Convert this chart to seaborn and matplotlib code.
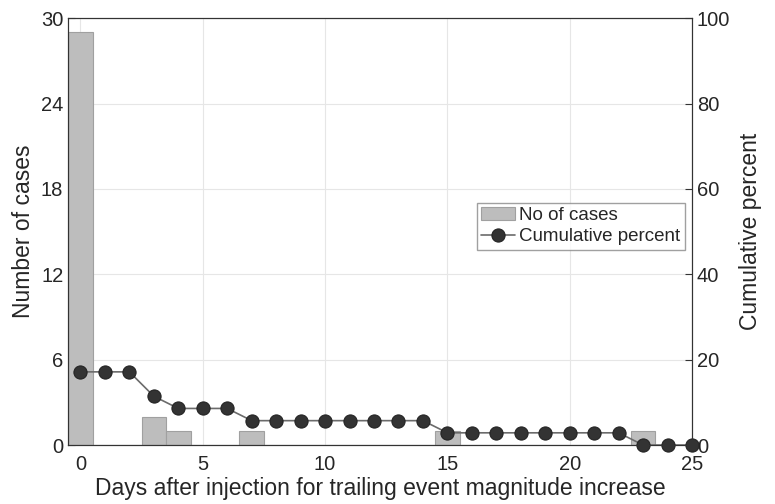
import numpy as np
import pandas as pd
import matplotlib
matplotlib.use("Agg")
import matplotlib.pyplot as plt
import seaborn as sns

# Data
days = list(range(0, 26))
cases = [29, 0, 0, 2, 1, 0, 0, 1, 0, 0, 0, 0, 0, 0, 0, 1, 0, 0, 0, 0, 0, 0, 0, 1, 0, 0]
cum_percent = [17.14, 17.14, 17.14, 11.43, 8.57, 8.57, 8.57, 5.71, 5.71, 5.71, 5.71,
               5.71, 5.71, 5.71, 5.71, 2.86, 2.86, 2.86, 2.86, 2.86, 2.86, 2.86, 2.86,
               0.0, 0.0, 0.0]
left_ticks = [0, 6, 12, 18, 24, 30]
right_ticks = [0, 20, 40, 60, 80, 100]

df = pd.DataFrame({"day": days, "cases": cases, "cum": cum_percent})

sns.set_style("white")
plt.rcParams['font.family'] = ['Liberation Sans', 'DejaVu Sans']

fig = plt.figure(figsize=(7.75, 5.04), dpi=100)
ax = fig.add_axes([0.088, 0.117, 0.805, 0.847])

sns.barplot(data=df, x="day", y="cases", native_scale=True, width=1.0,
            color="#bdbdbd", edgecolor="#a0a0a0", linewidth=0.8,
            saturation=1, ax=ax, label="No of cases", zorder=2)
ax.set_xlim(-0.5, 25)
ax.set_ylim(0, 30)
ax.set_yticks(left_ticks)
ax.set_xticks([0, 5, 10, 15, 20, 25])
ax.grid(True, color="#e6e6e6", linewidth=0.8, zorder=0)
ax.set_axisbelow(True)
ax.set_xlabel("Days after injection for trailing event magnitude increase", fontsize=16.5, labelpad=2)
ax.set_ylabel("Number of cases", fontsize=16.5, labelpad=4)

ax2 = ax.twinx()
sns.lineplot(data=df, x="day", y="cum", ax=ax2, color="#6b6b6b", linewidth=1.2,
             marker="o", markersize=9.5, markerfacecolor="#333333",
             markeredgecolor="#222222", label="Cumulative percent", clip_on=False)
ax2.set_ylim(0, 100)
ax2.set_yticks(right_ticks)
ax2.set_ylabel("Cumulative percent", fontsize=16.5, labelpad=6)
ax2.set_xlim(-0.5, 25)

for a in (ax, ax2):
    a.tick_params(direction="in", length=5, color="#333333", labelsize=14.5)
    for s in a.spines.values():
        s.set_color("#333333")
        s.set_linewidth(0.8)
ax.tick_params(axis="x", pad=7)

if ax.legend_:
    ax.legend_.remove()
h1, l1 = ax.get_legend_handles_labels()
h2, l2 = ax2.get_legend_handles_labels()
ax2.legend(h1 + h2, l1 + l2, loc="upper right", bbox_to_anchor=(0.988, 0.568),
           frameon=True, fancybox=False, edgecolor="#888888", fontsize=13.5,
           handlelength=1.8, borderpad=0.25, labelspacing=0.2, handletextpad=0.2,
           borderaxespad=0)

fig.savefig("out.png", dpi=100)
